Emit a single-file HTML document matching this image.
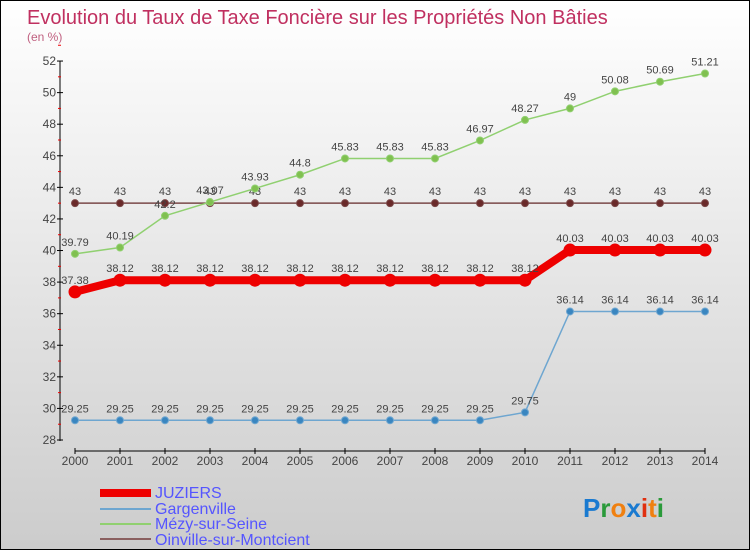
<!DOCTYPE html>
<html><head><meta charset="utf-8"><style>
body{margin:0;}
#c{width:748px;height:548px;border:1px solid #000;background:linear-gradient(#fff,#ccc);position:relative;overflow:hidden;font-family:"Liberation Sans",sans-serif;}
</style></head><body>
<div id="c">
<svg id="s" width="748" height="548" style="position:absolute;left:0;top:0">
<text x="26" y="23" font-size="20" fill="#c03060">Evolution du Taux de Taxe Foncière sur les Propriétés Non Bâties</text>
<text x="26" y="40" font-size="12" fill="#c06080">(en %)</text>
<g id="g"></g>
<g>
<rect x="99" y="488" width="51" height="8" fill="#e00"/>
<text x="154" y="497" font-size="16" fill="#55f">JUZIERS</text>
<rect x="99" y="507" width="51" height="2" fill="#6ea6d0"/>
<text x="154" y="513" font-size="16" fill="#55f">Gargenville</text>
<rect x="99" y="522" width="51" height="2" fill="#90d070"/>
<text x="154" y="528" font-size="16" fill="#55f">Mézy-sur-Seine</text>
<rect x="99" y="537" width="51" height="2" fill="#8a6060"/>
<text x="154" y="544" font-size="16" fill="#55f">Oinville-sur-Montcient</text>
</g>
<text x="582" y="516" font-size="26" font-weight="bold"><tspan fill="#1a7ad0">P</tspan><tspan fill="#2a9a3a">r</tspan><tspan fill="#f08010">o</tspan><tspan fill="#1a7ad0">x</tspan><tspan fill="#e03010">i</tspan><tspan fill="#f08010">t</tspan><tspan fill="#2a9a3a">i</tspan></text>
</svg>
</div>
<script>
const years=[2000,2001,2002,2003,2004,2005,2006,2007,2008,2009,2010,2011,2012,2013,2014];
const juziers=[37.38,38.12,38.12,38.12,38.12,38.12,38.12,38.12,38.12,38.12,38.12,40.03,40.03,40.03,40.03];
const gargenville=[29.25,29.25,29.25,29.25,29.25,29.25,29.25,29.25,29.25,29.25,29.75,36.14,36.14,36.14,36.14];
const mezy=[39.79,40.19,42.2,43.07,43.93,44.8,45.83,45.83,45.83,46.97,48.27,49,50.08,50.69,51.21];
const oinville=[43,43,43,43,43,43,43,43,43,43,43,43,43,43,43];
const yTicks=[28,30,32,34,36,38,40,42,44,46,48,50,52];
const NS="http://www.w3.org/2000/svg";
const g=document.getElementById('g');
const X=i=>74+i*45, Y=v=>439-(v-28)*15.79;
function mk(t,a,p){const e=document.createElementNS(NS,t);for(const k in a)e.setAttribute(k,a[k]);(p||g).appendChild(e);return e;}
let ax=mk('line',{x1:59,y1:60,x2:59,y2:440,stroke:'#000'});


yTicks.forEach(v=>{
 mk('line',{x1:56,x2:62,y1:Y(v),y2:Y(v),stroke:'#000'});
 mk('line',{x1:57,x2:60,y1:Y(v+1),y2:Y(v+1),stroke:'#e00'});
 let t=mk('text',{x:55,y:Y(v)+4,'text-anchor':'end','font-size':12,fill:'#444'});t.textContent=v;
 
 
});
let xa=mk('line',{x1:74,y1:450,x2:704,y2:450,stroke:'#000'});


years.forEach((y,i)=>{
 mk('line',{x1:X(i),x2:X(i),y1:447,y2:453,stroke:'#000'});
 let t=mk('text',{x:X(i),y:464,'text-anchor':'middle','font-size':12,fill:'#444'});t.textContent=y;
 
 
});
function series(d,name,col,w,r,dot){
 const grp=mk('g',{});
 
 
 let l=mk('polyline',{points:d.map((v,i)=>X(i)+','+Y(v)).join(' '),fill:'none',stroke:col,'stroke-width':w},grp);
 
 
 d.forEach((v,i)=>{
  let c=mk('circle',{cx:X(i),cy:Y(v),r:r,fill:dot,stroke:col},grp);
  
  
  let t=mk('text',{x:X(i),y:Y(v)-8,'text-anchor':'middle','font-size':11,fill:'#444'},grp);t.textContent=v;
  
  
 });
}
series(oinville,'oinville','#7a4848',1.5,3.5,'#6a2a2a');
series(mezy,'mezy','#90d070',1.5,3.5,'#80c050');
series(gargenville,'gargenville','#6ea6d0',1.5,3.5,'#3a86c0');
series(juziers,'juziers','#e00',8,6,'#e00');
</script>
</body></html>
